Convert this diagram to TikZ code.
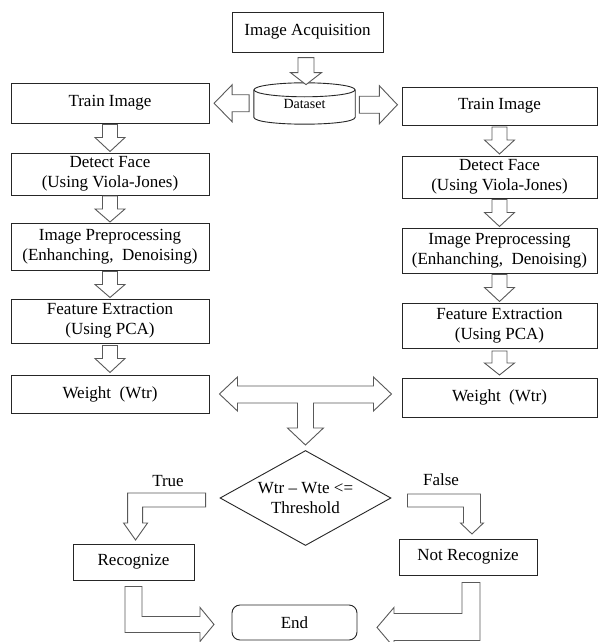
\documentclass[tikz,border=0pt]{standalone}
\usepackage{fontspec}
\setmainfont{Liberation Serif}
\usetikzlibrary{shapes.geometric,calc}

\tikzset{
    stagebox/.style={draw=black!85, line width=0.9pt, inner sep=2pt, align=center, font=\fontsize{17}{20}\selectfont},
    hollow/.style={draw=black!65, line width=0.9pt, fill=white, line join=miter},
    % straight hollow arrow: length/half shaft/half head/head length
    pics/blockarrow/.style args={#1/#2/#3/#4}{code={
        \draw[hollow] (-#1/2,-#2) -- ({#1/2-#4},-#2) -- ({#1/2-#4},-#3) -- (#1/2,0)
            -- ({#1/2-#4},#3) -- ({#1/2-#4},#2) -- (-#1/2,#2) -- cycle;
    }}
}

\begin{document}
\begin{tikzpicture}[x=1pt, y=-1pt]
    % page
    \useasboundingbox[fill=white] (0, 0) rectangle (598, 642);

    % top
    \node[stagebox, minimum width=151, minimum height=40] (acq) at (307.5, 32) {Image Acquisition};
    % dataset cylinder
    \node[minimum width=101, minimum height=27, inner sep=0, font=\fontsize{14}{16}\selectfont] (data) at (304.5, 103.5) {\raisebox{-3pt}{Dataset}};
    \draw[stagebox] (data.north) ellipse [x radius=50.5, y radius=7];
    \draw[stagebox] (data.north west) -- (data.south west) .. controls +(0, 9.3) and +(0, 9.3) .. (data.south east) -- (data.north east);

    % left column
    \node[stagebox, minimum width=198, minimum height=40] (train1) at (110, 103) {Train Image};
    \node[stagebox, minimum width=198, minimum height=42] (detect1) at (110, 174) {Detect Face\\(Using Viola-Jones)};
    \node[stagebox, minimum width=198, minimum height=47] (prep1) at (110, 246.5) {Image Preprocessing\\(Enhanching,\ \ Denoising)};
    \node[stagebox, minimum width=198, minimum height=44] (feat1) at (110, 321) {Feature Extraction\\(Using PCA)};
    \node[stagebox, minimum width=198, minimum height=38] (weight1) at (110, 394) {Weight\ \ (Wtr)};

    % right column
    \node[stagebox, minimum width=195, minimum height=38] (train2) at (499.5, 106) {Train Image};
    \node[stagebox, minimum width=195, minimum height=42] (detect2) at (499.5, 177) {Detect Face\\(Using Viola-Jones)};
    \node[stagebox, minimum width=195, minimum height=45] (prep2) at (499.5, 250.5) {Image Preprocessing\\(Enhanching,\ \ Denoising)};
    \node[stagebox, minimum width=195, minimum height=45] (feat2) at (499.5, 325.5) {Feature Extraction\\(Using PCA)};
    \node[stagebox, minimum width=195, minimum height=39] (weight2) at (499.5, 397.5) {Weight\ \ (Wtr)};

    % decision
    \node[stagebox, diamond, aspect=1.8, minimum width=171, minimum height=95, inner sep=0] (dec) at (305.5, 498) {Wtr -- Wte <=\\Threshold};
    \node[font=\fontsize{17}{20}\selectfont] (truelbl) at (168, 481) {True};
    \node[font=\fontsize{17}{20}\selectfont] (falselbl) at (441, 480) {False};

    % results
    \node[stagebox, minimum width=121, minimum height=36] (rec) at (133.5, 562) {Recognize};
    \node[stagebox, minimum width=138, minimum height=36] (nrec) at (468, 557) {Not Recognize};
    \node[stagebox, rounded corners=8pt, minimum width=125, minimum height=35] (end) at (294.5, 622.5) {End};

    % acquisition to dataset
    \pic[rotate=-90] at ($(acq.south)!0.5!(data.north)$) {blockarrow=27/8/15.5/12};
    % dataset to both train images
    \pic[rotate=180] at ($(data.west)!0.5!(train1.east)$) {blockarrow=35/8.5/18.5/18};
    \pic at ($(data.east)!0.5!(train2.west)$) {blockarrow=38/8.5/19/18};

    % left column arrows
    \pic[rotate=-90] at ($(train1.south)!0.5!(detect1.north)$) {blockarrow=27/7.5/15/14};
    \pic[rotate=-90] at ($(detect1.south)!0.5!(prep1.north)$) {blockarrow=26/7.5/15/13};
    \pic[rotate=-90] at ($(prep1.south)!0.5!(feat1.north)$) {blockarrow=26/7.5/15/13};
    \pic[rotate=-90] at ($(feat1.south)!0.5!(weight1.north)$) {blockarrow=27/7.5/15/14};

    % right column arrows
    \pic[rotate=-90] at ($(train2.south)!0.5!(detect2.north)$) {blockarrow=27/7.5/15/14};
    \pic[rotate=-90] at ($(detect2.south)!0.5!(prep2.north)$) {blockarrow=27/7.5/15/14};
    \pic[rotate=-90] at ($(prep2.south)!0.5!(feat2.north)$) {blockarrow=27/7.5/15/14};
    \pic[rotate=-90] at ($(feat2.south)!0.5!(weight2.north)$) {blockarrow=24/7.5/15/12};

    % both weights to decision
    \draw[hollow] (weight1.east) ++(10, 0) -- ++(18, -17) -- ++(0, 9) -- ++(136, 0) -- ++(0, -9)
        -- ++(18, 17) -- ++(-18, 17) -- ++(0, -8) -- ++(-60, 0) -- ++(0, 25) -- ++(10, 0)
        -- ++(-18, 17) -- ++(-18, -17) -- ++(10, 0) -- ++(0, -25) -- ++(-60, 0) -- ++(0, 8) -- cycle;

    % true branch
    \draw[hollow] (dec.west) ++(-14, -5) -- ++(-78, 0) -- ++(0, 30) -- ++(-4, 0) -- ++(12, 17)
        -- ++(12, -17) -- ++(-5, 0) -- ++(0, -16) -- ++(63, 0) -- cycle;
    % false branch
    \draw[hollow] (dec.east) ++(16, -4) -- ++(73, 0) -- ++(0, 29) -- ++(3, 0) -- ++(-11.5, 11)
        -- ++(-11.5, -11) -- ++(3, 0) -- ++(0, -16) -- ++(-56, 0) -- cycle;

    % results to end
    \draw[hollow] (rec.south) ++(-8.5, 6) -- ++(17, 0) -- ++(0, 30) -- ++(58, 0) -- ++(0, -9)
        -- ++(14, 17) -- ++(-14, 17) -- ++(0, -9) -- ++(-75, 0) -- cycle;
    \draw[hollow] (nrec.south) ++(-6, 7) -- ++(18, 0) -- ++(0, 58) -- ++(-86, 0) -- ++(0, 7)
        -- ++(-17, -20) -- ++(17, -20) -- ++(0, 6) -- ++(68, 0) -- cycle;
\end{tikzpicture}
\end{document}
